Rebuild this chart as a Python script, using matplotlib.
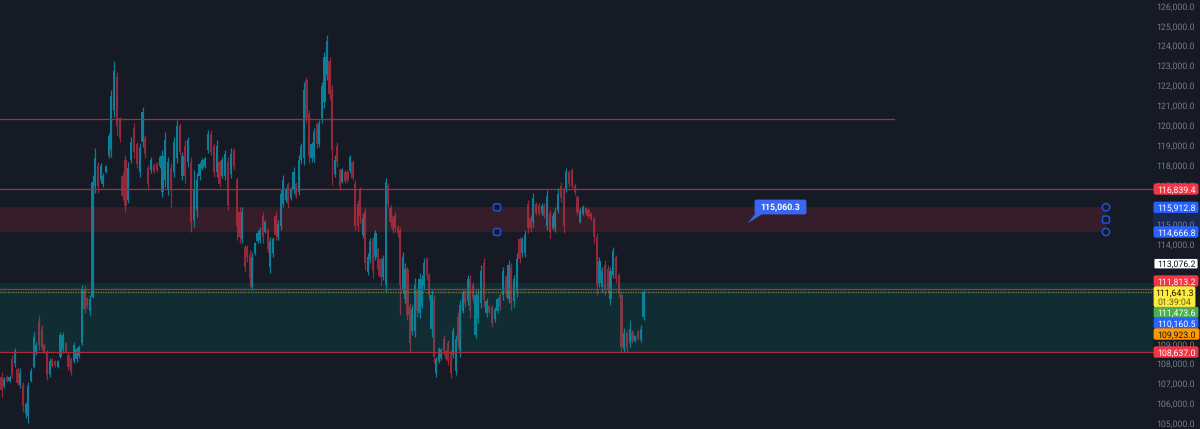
import numpy as np
import matplotlib
matplotlib.use("Agg")
import matplotlib.pyplot as plt
from matplotlib.patches import FancyBboxPatch, Polygon, Circle

plt.rcParams['font.family'] = ['Roboto', 'DejaVu Sans']
plt.rcParams['text.hinting'] = 'no_hinting'

highs = [
107650,107400,107480,107480,108490,108820,107900,107820,107150,106140,
107150,107820,109660,109160,110500,110000,109070,108740,108320,108320,
108240,108240,109660,109660,109160,108570,108400,109160,108910,108990,
112000,112000,111420,111500,117540,118880,118210,118130,117630,118050,
119640,121820,123300,122740,120480,117710,118550,118210,119470,120140,
119220,119140,120980,119550,118050,118460,118130,118210,118550,118800,
119720,118460,118130,119470,120310,120140,118720,119300,119470,118460,
117790,117630,118210,118380,118460,119810,119810,119140,119300,118300,
118460,118800,118460,118880,118880,117460,115950,
115950,114020,114020,113770,113690,114190,114780,114940,115700,115280,
114860,114440,114440,115700,115280,116790,117540,116960,117210,116960,
117960,117210,118550,119140,122240,122490,120810,119220,119890,120230,
120310,122240,123750,124590,123500,122070,118550,119220,117880,117880,
117790,117790,118550,118300,117290,116290,116960,115620,115870,113600,
114360,114440,114780,113940,113440,113520,117380,117120,116030,115530,
115700,115030,114940,113690,113100,112930,111090,111000,112340,111840,
112600,112510,113350,113440,112600,111760,111500,108400,108910,108820,
109490,108740,109240,108740,109910,109490,110670,111250,111760,111760,
112510,
112510,112170,111760,111760,113010,113350,111340,111000,111000,110920,
111420,111590,112930,112510,113270,113100,112510,113600,114440,114440,
114780,116290,115530,116620,116200,116120,116120,116120,116790,115780,
115620,115950,116870,117210,116960,117880,117790,117880,117120,116530,
115870,116030,115950,115870,115700,115450,114610,113440,112930,113270,
113010,112930,113900,113520,112600,111680,109830,109740,110250,109740,
109490,109740,110000,111760]
lows = [
106390,106810,107150,107150,107320,107900,106980,106810,105640,105300,
105050,107150,107820,108490,108740,108740,108570,107230,107400,107900,
107900,107820,108320,108570,108570,107730,107480,108070,108150,108320,
108990,110580,110830,110500,111340,116620,116620,117120,116960,117630,
118380,118460,120480,119550,119220,116290,115700,116120,118130,118380,
117880,117460,118970,118380,116870,117630,117630,117710,117880,116450,
116960,116530,115950,117460,118130,118550,117290,117120,117960,114690,
114940,115450,117290,117790,117880,118630,118550,117460,117460,116960,
117380,117290,115780,117380,117790,114270,114100,
114100,112680,113180,111930,111760,113520,114100,114100,114100,114610,
113690,112600,113440,114270,114270,114780,115950,116200,115870,116290,
116620,116370,116530,118130,118050,120140,118130,118210,118210,118890,
118970,120140,120900,122320,121320,117040,117460,117960,116790,117120,
117120,117210,117630,117290,114780,114690,115110,114360,112770,112510,
113100,112340,113270,112510,112000,112260,111680,115950,114940,114610,
114690,114440,110500,111590,111090,110250,108650,109490,109410,110420,
110330,110830,111760,112260,111260,109410,108070,107400,108070,108240,
108490,108240,107990,107320,108320,107480,108910,108400,110580,110920,
111000,
110330,111090,109320,110080,110830,110920,110420,110580,109910,110170,
110580,110750,111260,111420,111090,110750,110920,111420,113100,113440,
113440,114610,114690,114940,115530,115530,115530,115360,114780,114360,
114780,114690,115620,116200,114610,116700,116960,116870,116530,115530,
115110,115530,115530,115360,115280,114100,111500,111930,111680,111500,
111590,111000,112340,112090,111420,108650,108650,108650,108910,109070,
109160,109240,109160,110250]
opens = [
107400,106900,107400,107200,108300,108100,107800,107000,107000,105500,
105400,107200,107900,108600,110200,109800,109000,108600,107550,108250,
108200,107900,108400,108800,109100,108500,108300,108200,108300,108450,
109100,111800,111350,110700,111400,117000,118000,117300,117100,117700,
118500,118800,120800,122500,120400,117500,118300,116300,118300,119900,
119100,117700,119200,119400,117900,117800,118050,118150,118000,116700,
117300,116800,117900,117700,118400,120000,117500,119000,118200,118200,
115300,115800,117500,117900,118000,118800,119600,119000,117700,118200,
117500,117500,118200,117600,118800,117300,115700,
114300,113900,113900,113500,111900,113600,114200,114250,115500,114700,
114800,112900,113600,115500,114400,115000,116100,116300,117100,116400,
116800,117100,116700,118300,118400,122300,120600,118400,118400,120100,
119100,120400,121200,122600,123300,121800,117600,119000,117800,117200,
117700,117700,117750,118200,117100,116100,116800,114500,115700,112650,
113300,114300,113400,113800,113300,112400,112000,117000,115900,115450,
115500,114950,114800,111800,111300,112800,110900,109700,109700,111700,
110600,111000,112000,113300,112500,109800,111300,107600,108200,108350,
109300,108700,109100,108600,108500,107700,110400,108700,110700,111700,
111200,
112300,112000,109500,110300,111100,113100,110600,110950,110900,110300,
110700,111500,111500,112400,111300,112900,111200,111700,114300,113600,
113600,116100,115400,115200,116100,116050,115650,116000,115000,115600,
114900,114900,115800,117000,116800,116900,117700,117800,117000,116450,
115200,115600,115900,115800,115600,115350,114400,112100,111900,113000,
112800,111300,112500,113400,112500,111500,108800,109600,109100,109650,
109200,109650,109250,110400]
closes = [
106700,107300,107200,107400,107500,108700,107100,107600,105900,106000,
106900,107700,109400,109000,109000,108900,108650,107500,108200,107950,
108000,108200,109500,109500,108650,107900,107650,109000,108800,108900,
111800,110800,110950,111300,117200,118400,117000,118000,117500,118000,
119500,121500,122800,120000,119400,116500,116000,117900,119200,118700,
118100,118900,120700,118600,117100,118300,117750,117800,118450,118500,
119300,118200,116800,119200,120000,118700,118500,117500,119300,115200,
116800,117300,118100,118300,118400,119600,118700,117700,119000,117100,
118300,118600,116000,118600,118000,115000,114400,
115700,112900,113400,112300,113400,114100,114650,114800,114400,115200,
113800,114200,114300,114500,115100,116600,117300,116800,116100,116800,
117700,116500,118300,119000,121800,120400,118500,119100,119700,119100,
120100,122000,123500,124300,121600,118800,118300,118200,117000,117800,
117250,117300,118450,117400,115000,115000,115500,115400,113100,113400,
114200,112700,114600,112800,112400,113300,117200,116100,115200,114800,
114900,114600,112000,113400,112800,110500,109100,110800,112000,110700,
112300,112300,113100,112500,111500,111500,108400,108300,108800,108750,
108700,108300,108200,107600,109700,109300,109200,111000,111600,111100,
112300,
110700,111300,111500,111500,112700,111300,111200,110650,110100,110800,
111300,110900,112700,111600,113000,111100,112300,113300,113300,114300,
114500,114900,114900,116400,115650,115650,116000,115500,116500,114700,
115500,115700,116600,116400,115000,117700,117100,117000,116700,115700,
115750,115950,115650,115500,115350,114400,112000,113200,112700,111800,
111800,112700,113700,112300,111600,108900,109600,108900,109800,109200,
109450,109300,109800,111641.3]

anchor_bars = [0, 42, 86, 120, 143, 163, 178, 241]
anchor_time = [1.5, 114, 239.5, 327, 385.7, 434, 470, 643.5]

# ticks hidden behind the price tags in the reference are left out
tick_prices = [126000, 125000, 124000, 123000, 122000, 121000, 120000, 119000, 118000,
               117000, 115000, 114000, 109000, 108000, 107000, 106000, 105000]
zone_red = (114666.8, 115912.8)
zone_green = (108637.0, 112120.0)
level_short = 120350.0
level_prices = [116839.4, 111813.2, 108637.0]
last_price = 111641.3
callout_value = "115,060.3"
label_texts = ["116,839.4", "115,912.8", "114,666.8", "113,076.2", "111,813.2",
               "111,473.6", "110,160.5", "109,923.0", "108,637.0"]
label_colors = ["#f23645", "#2962ff", "#2962ff", "#ffffff", "#f23645",
                "#4caf50", "#2962ff", "#ff9800", "#f23645"]
label_text_colors = ["#ffffff", "#ffffff", "#ffffff", "#131722", "#ffffff",
                     "#ffffff", "#ffffff", "#131722", "#ffffff"]
label_centers_px = [189, 207.3, 232, 263.7, 281, 312.3, 323, 334, 352]

W, H = 1200, 429
BG = "#161a25"
UP, DOWN = "#0b7f99", "#92293b"
LINE = "#a52f3e"
FS = 6.3

fig = plt.figure(figsize=(W / 100, H / 100), dpi=100, facecolor=BG)
ax = fig.add_axes([0, 0, 1, 1], facecolor=BG)
ax.axis("off")
ax.set_xlim(0, W)
ax.set_ylim(104761, 126351)

n = len(closes)
assert n == len(opens) == len(highs) == len(lows)
xs = np.interp(np.arange(n), anchor_bars, anchor_time)
o, c, hi, lo = map(np.array, (opens, closes, highs, lows))
cols = [UP if a >= b else DOWN for a, b in zip(c, o)]
ax.vlines(xs, lo, hi, colors=cols, lw=0.9, zorder=2)
ax.bar(xs, np.abs(c - o), bottom=np.minimum(c, o), width=2.2, color=cols, lw=0, zorder=3)

# zones over the candles
ax.fill_between([0, 1106], *zone_red, color="#f23645", alpha=0.14, lw=0, zorder=4)
ax.fill_between([0, 1153], *zone_green, color="#009688", alpha=0.15, lw=0, zorder=4)

# levels
ax.plot([0, 894], [level_short] * 2, color=LINE, lw=0.9, zorder=5)
for p in level_prices:
    ax.plot([0, 1153], [p, p], color=LINE, lw=0.9, zorder=5)
ax.plot([0, 1153], [last_price] * 2, color="#7d8a3a", lw=0.9, ls=(0, (1, 1)), zorder=5)

# price axis
ax.fill_between([1153, 1200], *zone_red, color="#2962ff", alpha=0.2, lw=0, zorder=4)
for p in tick_prices:
    ax.text(1195, p, f"{p:,.1f}", color="#787b86", fontsize=FS,
            ha="right", va="center", zorder=6)

px = lambda x: x / W
py = lambda y: 1 - y / H

def box(x0, x1, y0, y1, color, edge=None):
    fig.add_artist(FancyBboxPatch((x0, H - y1), x1 - x0, y1 - y0,
                                  boxstyle="round,pad=0,rounding_size=1.5",
                                  transform=None, fc=color, ec=edge or color,
                                  lw=0.6, zorder=10))

for t, col, tc, y in zip(label_texts, label_colors, label_text_colors, label_centers_px):
    right = 1199 if t == "109,923.0" else 1198
    box(1154, right, y - 5.2, y + 5.2, col, edge="#131722" if col == "#ffffff" else None)
    fig.text(px(1176.5), py(y), t, color=tc, fontsize=FS, ha="center",
             va="center_baseline", zorder=11)

# current price tag with countdown
box(1154, 1195, 286.8, 306.7, "#ffeb3b")
fig.text(px(1174.5), py(292), f"{last_price:,.1f}", color="#131722", fontsize=FS,
         ha="center", va="center_baseline", zorder=11)
fig.text(px(1174.5), py(301.5), "01:39:04", color="#5c5a20", fontsize=FS,
         ha="center", va="center_baseline", zorder=11)

# callout
fig.add_artist(Polygon([(755.7, H - 213), (764, H - 213), (748, H - 223)], closed=True,
                       transform=None, fc="#3866f0", ec="none", zorder=10))
box(755, 806, 200, 214, "#3866f0")
fig.text(px(780.5), py(207), callout_value, color="#ffffff", fontsize=FS, fontweight="bold",
         ha="center", va="center_baseline", zorder=11)

# drawing handles
HC = "#2050d8"
for (hx, hy) in [(497, 207.3), (497, 232), (1106, 219.6)]:
    fig.add_artist(FancyBboxPatch((hx - 3.5, H - hy - 3.5), 7, 7,
                                  boxstyle="round,pad=0,rounding_size=1.8", transform=None,
                                  fc=BG, ec=HC, lw=1.1, zorder=9))
for hy in (207.3, 232):
    fig.add_artist(Circle((1106, H - hy), 3.7, transform=None, fc=BG, ec=HC,
                          lw=1.1, zorder=9))

fig.savefig("out.png", dpi=100, facecolor=BG)
